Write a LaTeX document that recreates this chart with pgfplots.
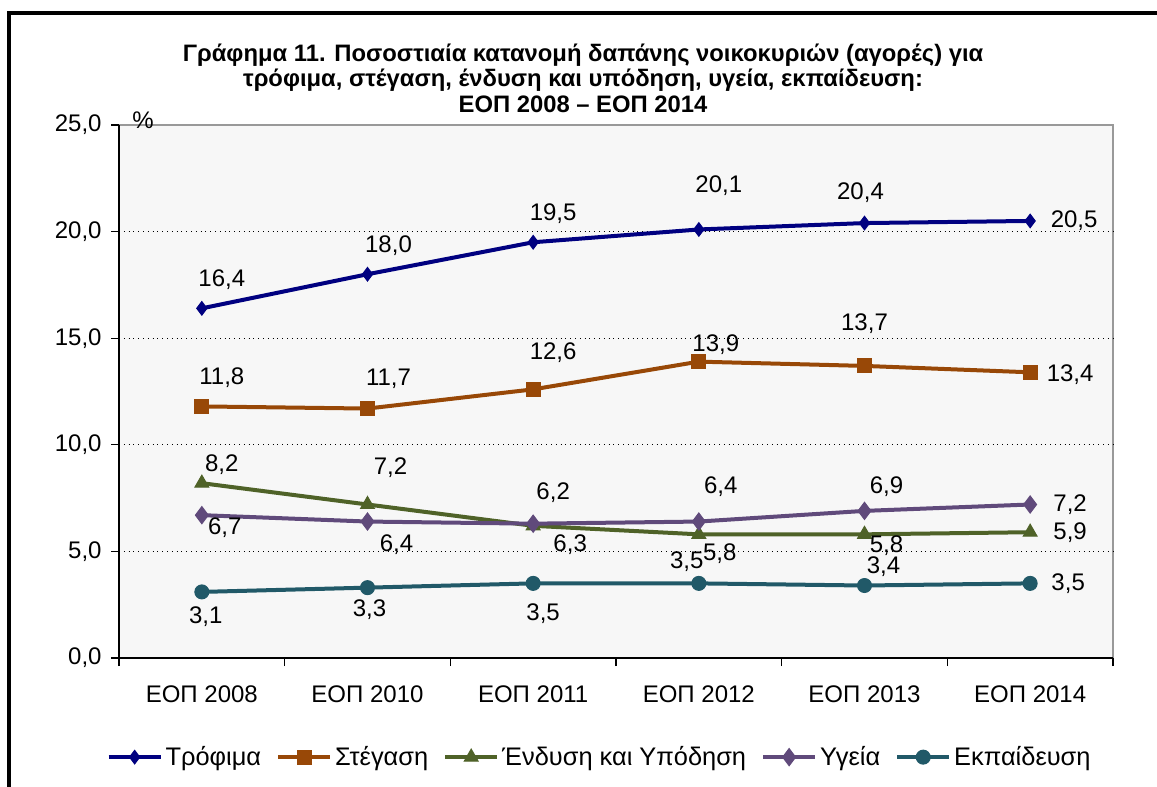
\documentclass[border=0pt]{standalone}
\usepackage{fontspec}
\setmainfont{Liberation Sans}
\usepackage{pgfplots}
\pgfplotsset{compat=1.18}
\usepackage{pgfplotstable}

\definecolor{cFood}{RGB}{0,0,128}
\definecolor{cHouse}{RGB}{152,72,7}
\definecolor{cCloth}{RGB}{79,98,40}
\definecolor{cHealth}{RGB}{96,74,123}
\definecolor{cEdu}{RGB}{33,89,104}
\definecolor{plotbg}{RGB}{247,247,247}

% x = category, y = value, lx/ly = label offset in pt
\pgfplotstableread{
x y lx ly
0 16.4 10 14.5
1 18.0 10.5 14.5
2 19.5 10 14.5
3 20.1 10 22
4 20.4 -2 15
5 20.5 22 0
}\food
\pgfplotstableread{
x y lx ly
0 11.8 10 14.5
1 11.7 10.5 15
2 12.6 10 18.5
3 13.9 8.5 8.5
4 13.7 0 21
5 13.4 20 -1
}\housing
\pgfplotstableread{
x y lx ly
0 8.2 10 9.5
1 7.2 11.5 18.5
2 6.2 10 16.5
3 5.8 10.5 -9.5
4 5.8 11 -5.5
5 5.9 20 0
}\clothing
\pgfplotstableread{
x y lx ly
0 6.7 11.5 -6.5
1 6.4 14.5 -11.5
2 6.3 18.5 -10.5
3 6.4 11 17.5
4 6.9 11 12
5 7.2 20 0
}\health
\pgfplotstableread{
x y lx ly
0 3.1 2 -12.5
1 3.3 1 -11
2 3.5 5 -15
3 3.5 -6 11
4 3.4 9.5 9.5
5 3.5 19 0
}\education

\def\lx{0}
\def\ly{0}

\begin{document}
\begin{tikzpicture}
\useasboundingbox (-59.5pt,-64.5pt) rectangle (519pt,329pt);
\fill[white] (-59.5pt,-64.5pt) rectangle (519pt,329pt);
\draw[line width=1.6pt] (-55pt,-70pt) -- (-55pt,322.5pt) -- (530pt,322.5pt);
\node[font=\fontsize{11.9}{12.8}\selectfont\bfseries, align=center] at (232pt,290pt)
  {Γράφημα 11. Ποσοστιαία κατανομή δαπάνης νοικοκυριών (αγορές) για\\
   τρόφιμα, στέγαση, ένδυση και υπόδηση, υγεία, εκπαίδευση:\\
   ΕΟΠ 2008 – ΕΟΠ 2014};
\begin{axis}[
    scale only axis,
    width=497pt, height=266.5pt,
    xmin=-0.5, xmax=5.5,
    ymin=0, ymax=25,
    axis x line*=bottom,
    axis y line*=left,
    axis line style={-, black, line width=0.8pt},
    axis background/.style={fill=plotbg, draw=gray!80, line width=1pt},
    xtick={0,...,5},
    xticklabels={ΕΟΠ 2008,ΕΟΠ 2010,ΕΟΠ 2011,ΕΟΠ 2012,ΕΟΠ 2013,ΕΟΠ 2014},
    major x tick style={draw=none},
    minor xtick={-0.5,0.5,1.5,2.5,3.5,4.5,5.5},
    minor x tick style={black, line width=0.6pt},
    minor tick length=4pt,
    ytick={0,5,...,20},
    extra y ticks={25},
    extra y tick style={grid=none},
    major y tick style={black, line width=0.6pt},
    major tick length=4pt,
    tick align=outside,
    ymajorgrids,
    major grid style={black, dotted, line width=0.5pt},
    yticklabel style={xshift=-1.2pt, /pgf/number format/fixed, /pgf/number format/fixed zerofill,
      /pgf/number format/precision=1, /pgf/number format/use comma, /pgf/number format/assume math mode=true},
    ticklabel style={font=\fontsize{12}{13}\selectfont},
    xticklabel style={yshift=-6.5pt},
    legend columns=5,
    legend style={at={(0.484,-0.186)}, anchor=center, draw=none, fill=none,
      font=\fontsize{12.7}{14}\selectfont,
      nodes={inner xsep=1.5pt},
      /tikz/every even column/.append style={column sep=6pt}},
    legend image code/.code={
      \draw[line width=2pt, mark repeat=2, mark phase=2] plot coordinates {(0pt,0pt) (13pt,0pt) (26pt,0pt)};},
    every axis plot/.append style={line width=2pt},
    nodes near coords={\pgfmathprintnumber[fixed,fixed zerofill,precision=1,use comma,assume math mode=true]{\pgfplotspointmeta}},
    visualization depends on={\thisrow{lx} \as \lx},
    visualization depends on={\thisrow{ly} \as \ly},
    every node near coord/.append style={text=black, anchor=center, font=\fontsize{12}{13}\selectfont,
      xshift=\lx pt, yshift=\ly pt},
    clip=false,
]
\addplot[cFood, mark=diamond*, mark size=3.4pt, mark options={solid, line width=0.5pt}] table[x=x,y=y] {\food};
\addlegendentry{Τρόφιμα}
\addplot[cHouse, mark=square*, mark size=3.5pt, mark options={solid, line width=0.5pt}] table[x=x,y=y] {\housing};
\addlegendentry{Στέγαση}
\addplot[cCloth, mark=triangle*, mark size=4pt, mark options={solid, line width=0.5pt}] table[x=x,y=y] {\clothing};
\addlegendentry{Ένδυση και Υπόδηση}
\addplot[cHealth, mark=diamond*, mark size=4.3pt, mark options={solid, line width=0.5pt}] table[x=x,y=y] {\health};
\addlegendentry{Υγεία}
\addplot[cEdu, mark=*, mark size=3.5pt, mark options={solid, line width=0.5pt}] table[x=x,y=y] {\education};
\addlegendentry{Εκπαίδευση}
\end{axis}
\node[font=\fontsize{12}{13}\selectfont] at (12pt,269pt) {\%};
\end{tikzpicture}
\end{document}
